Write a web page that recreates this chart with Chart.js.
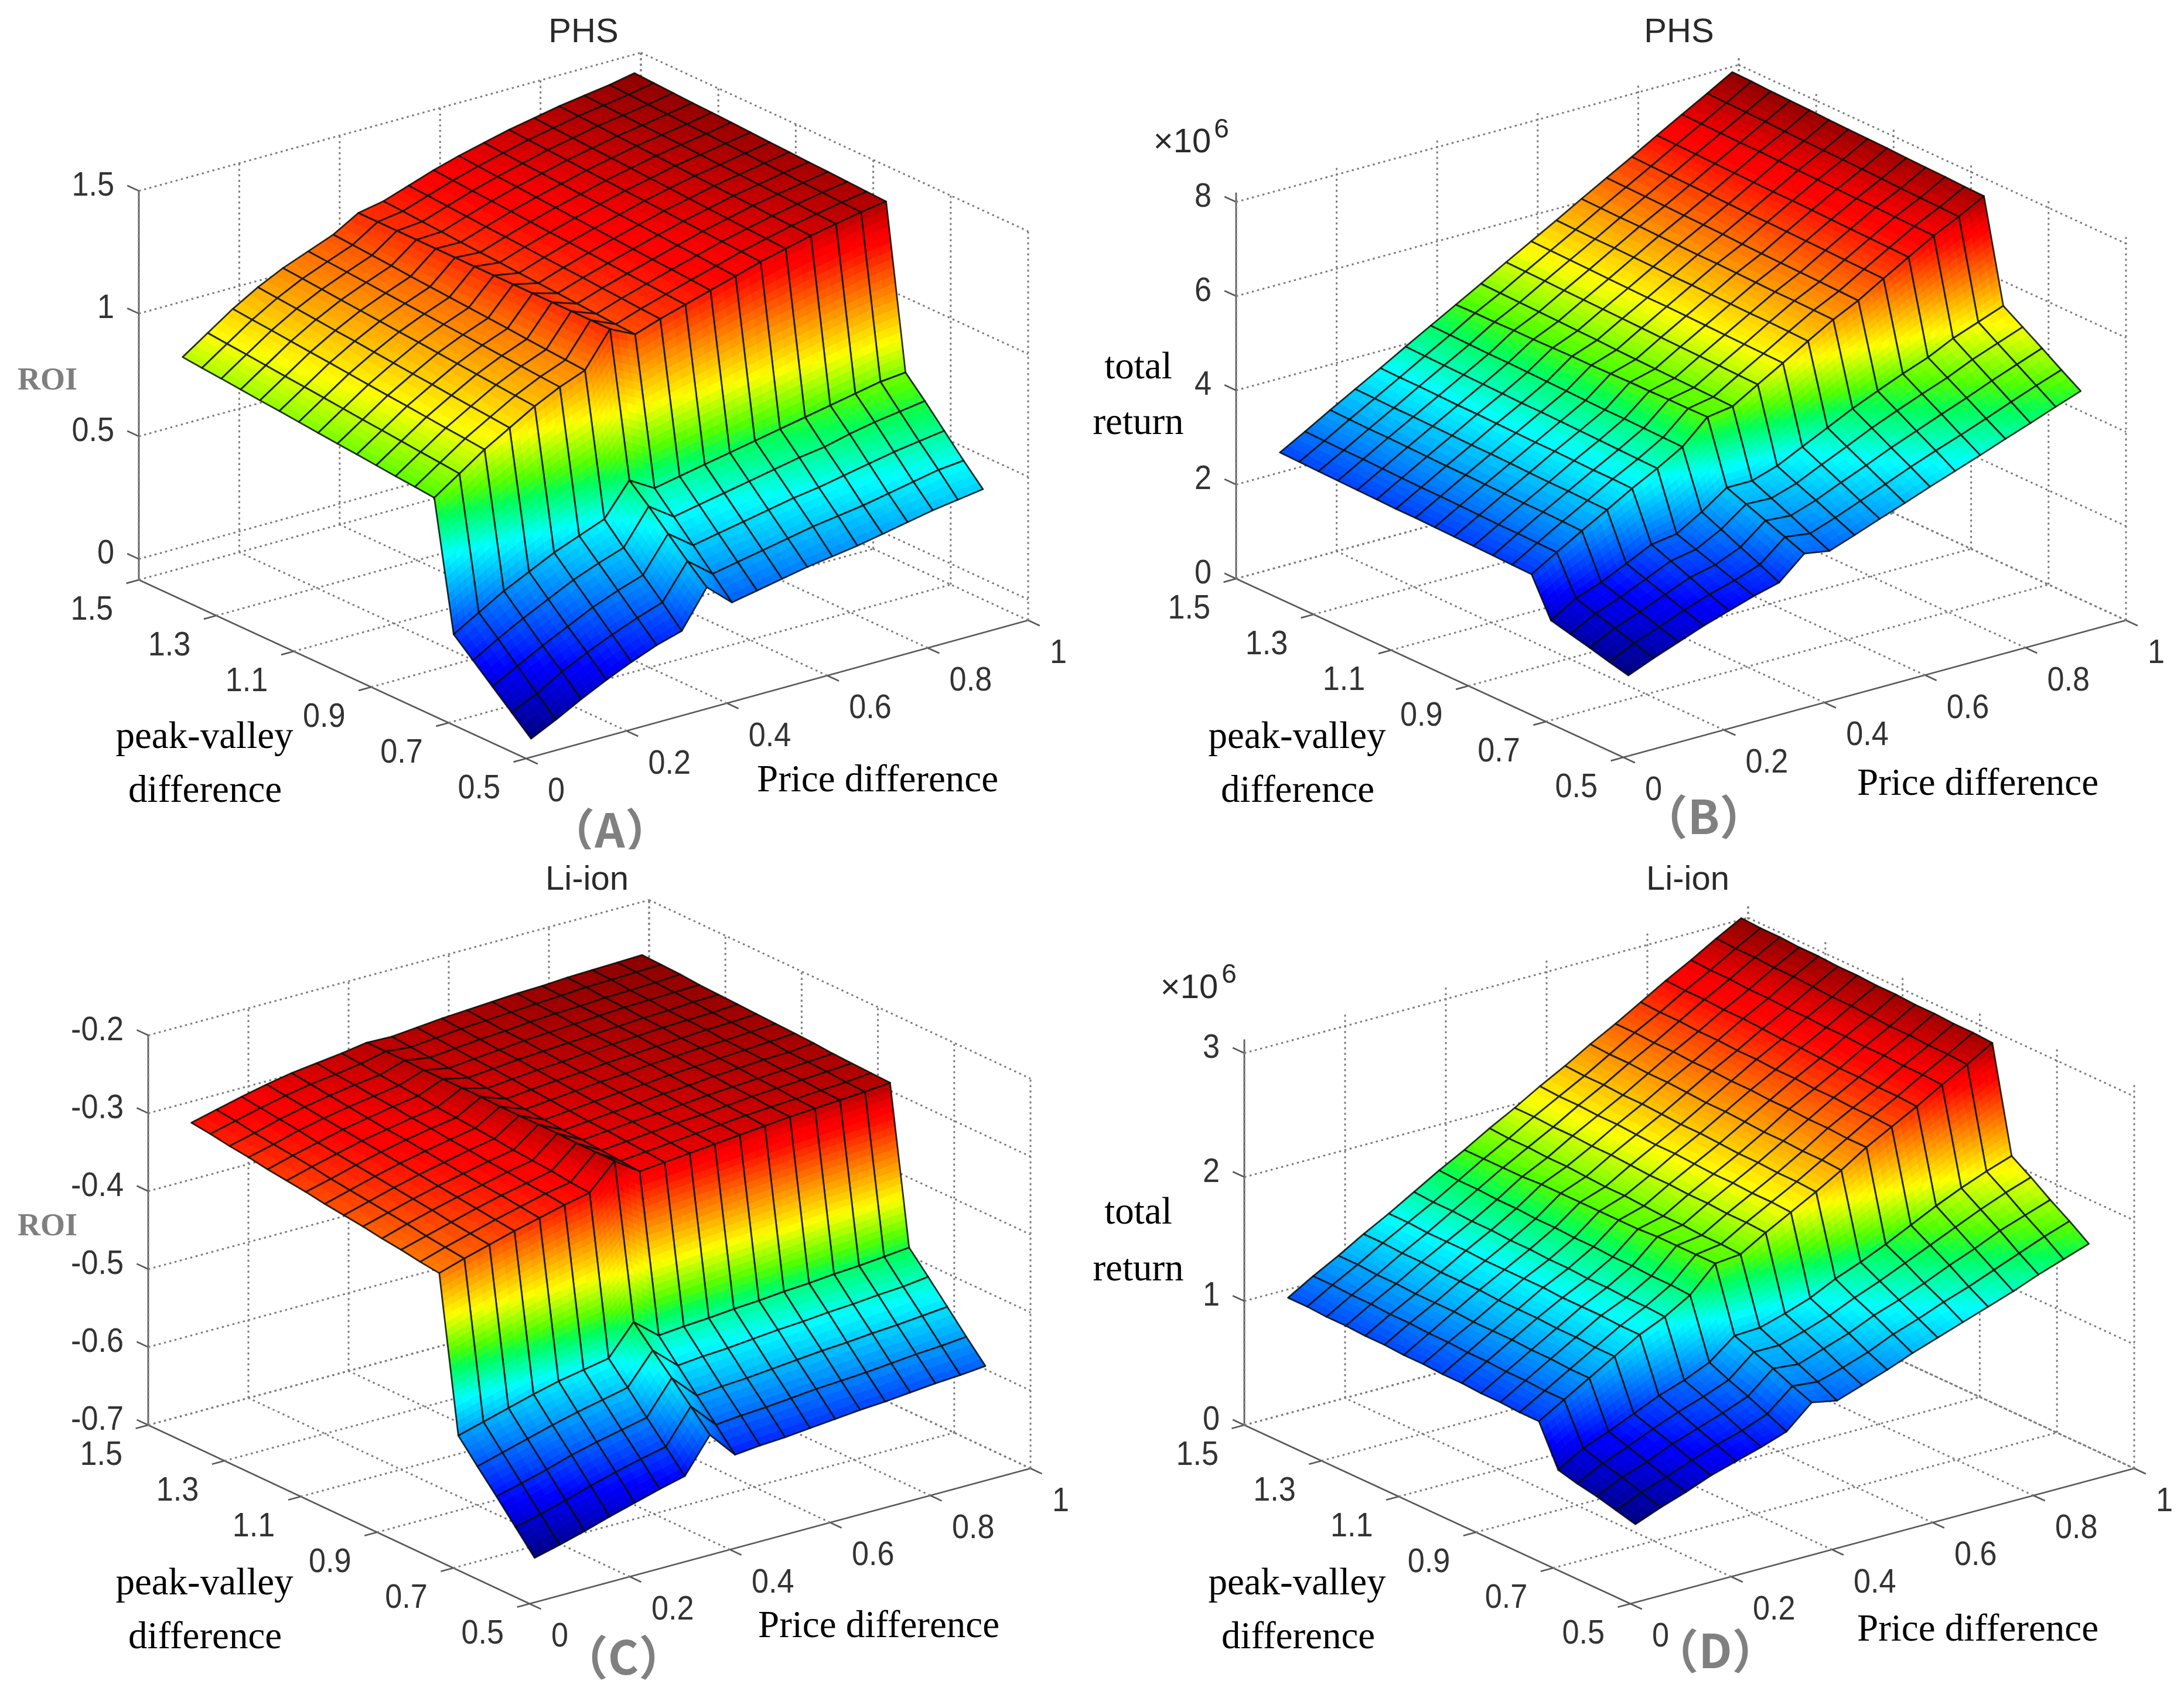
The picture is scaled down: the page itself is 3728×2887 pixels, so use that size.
<!DOCTYPE html>
<html>
<head>
<meta charset="utf-8">
<title>PHS and Li-ion surfaces</title>
<script src="https://cdn.jsdelivr.net/npm/chart.js@4"></script>
<style>
body{margin:0;background:#fff;width:3728px;height:2887px;position:relative;overflow:hidden;}
canvas{position:absolute;}
</style>
</head>
<body>
<canvas id="panelA"></canvas>
<canvas id="panelB"></canvas>
<canvas id="panelC"></canvas>
<canvas id="panelD"></canvas>
<script>
// grid of the surfaces
const priceDiff=[0.01,0.06,0.11,0.16,0.21,0.26,0.31,0.36,0.41,0.46,0.51,0.56,0.61,0.66,0.71,0.76,0.81,0.86,0.91];
const peakValley=[0.5,0.55,0.6,0.65,0.7,0.75,0.8,0.85,0.9,0.95,1.0,1.05,1.1,1.15,1.2,1.25,1.3,1.35,1.4];

// tick labels
const priceTicks=[0,0.2,0.4,0.6,0.8,1];
const priceTickLabels=['0','0.2','0.4','0.6','0.8','1'];
const peakTicks=[0.5,0.7,0.9,1.1,1.3,1.5];
const peakTickLabels=['0.5','0.7','0.9','1.1','1.3','1.5'];
const roiPhsTicks=[0,0.5,1,1.5];
const roiPhsLabels=['0','0.5','1','1.5'];
const returnPhsTicks=[0,2,4,6,8];
const returnPhsLabels=['0','2','4','6','8'];
const roiLiTicks=[-0.7,-0.6,-0.5,-0.4,-0.3,-0.2];
const roiLiLabels=['-0.7','-0.6','-0.5','-0.4','-0.3','-0.2'];
const returnLiTicks=[0,1,2,3];
const returnLiLabels=['0','1','2','3'];

// values, one row per peak-valley value, one column per price difference
const roiPhs=[
[-.01,.04,.095,.145,.19,.23,.26,.41,.32,.34,.36,.38,.395,.41,.43,.45,.47,.485,.50],
[.06,.11,.17,.22,.265,.305,.34,.48,.40,.42,.44,.46,.48,.495,.51,.53,.55,.57,.58],
[.13,.185,.24,.29,.34,.38,.415,.555,.48,.50,.52,.54,.56,.575,.595,.615,.635,.65,.665],
[.20,.26,.315,.365,.415,.455,.49,.63,.56,.58,.60,.62,.64,.66,.675,.70,.72,.735,.75],
[.27,.33,.39,.44,.49,.53,.57,.70,.64,.66,.68,.70,.72,.74,.76,.78,.80,.82,.83],
[.790,.860,.930,.990,1.050,1.100,1.140,1.280,1.230,1.265,1.295,1.325,1.355,1.385,1.410,1.435,1.455,1.475,1.490],
[.798,.868,.938,.998,1.057,1.106,1.146,1.280,1.235,1.270,1.301,1.331,1.360,1.390,1.415,1.439,1.459,1.478,1.494],
[.805,.875,.945,1.005,1.064,1.112,1.152,1.280,1.241,1.276,1.307,1.337,1.366,1.395,1.419,1.443,1.463,1.482,1.498],
[.813,.883,.953,1.013,1.071,1.118,1.158,1.280,1.246,1.281,1.312,1.342,1.371,1.400,1.424,1.448,1.467,1.485,1.502],
[.821,.891,.961,1.021,1.078,1.125,1.165,1.280,1.252,1.287,1.318,1.348,1.377,1.405,1.428,1.452,1.470,1.489,1.505],
[.828,.898,.968,1.028,1.085,1.131,1.171,1.280,1.257,1.292,1.324,1.354,1.382,1.410,1.433,1.456,1.474,1.492,1.509],
[.836,.906,.976,1.036,1.092,1.137,1.177,1.280,1.262,1.297,1.330,1.360,1.387,1.415,1.438,1.460,1.478,1.496,1.513],
[.844,.914,.984,1.044,1.098,1.143,1.183,1.280,1.268,1.303,1.335,1.365,1.393,1.420,1.442,1.465,1.482,1.499,1.517],
[.852,.922,.992,1.052,1.105,1.149,1.189,1.280,1.273,1.308,1.341,1.371,1.398,1.425,1.447,1.469,1.486,1.503,1.521],
[.859,.929,.999,1.059,1.112,1.155,1.195,1.280,1.278,1.313,1.347,1.377,1.403,1.430,1.452,1.473,1.490,1.506,1.525],
[.867,.937,1.007,1.067,1.119,1.162,1.202,1.280,1.284,1.319,1.353,1.383,1.409,1.435,1.456,1.477,1.493,1.510,1.528],
[.875,.945,1.015,1.075,1.126,1.168,1.208,1.280,1.289,1.324,1.358,1.388,1.414,1.440,1.461,1.482,1.497,1.513,1.532],
[.882,.952,1.022,1.082,1.133,1.174,1.214,1.280,1.295,1.330,1.364,1.394,1.420,1.445,1.465,1.486,1.501,1.517,1.536],
[.890,.960,1.030,1.090,1.140,1.180,1.220,1.280,1.300,1.335,1.370,1.400,1.425,1.450,1.470,1.490,1.505,1.520,1.540]
];
const returnPhs=[
[1.71,1.93,2.13,2.33,2.50,2.67,2.81,3.28,3.19,3.38,3.58,3.77,3.97,4.16,4.35,4.55,4.74,4.94,5.13],
[1.81,2.06,2.26,2.47,2.66,2.81,3.00,3.44,3.37,3.56,3.77,3.98,4.20,4.40,4.59,4.79,5.00,5.20,5.39],
[1.92,2.19,2.39,2.61,2.83,2.95,3.18,3.60,3.56,3.74,3.97,4.19,4.42,4.63,4.84,5.04,5.26,5.46,5.66],
[2.02,2.31,2.51,2.75,2.99,3.09,3.37,3.76,3.74,3.91,4.16,4.40,4.65,4.87,5.08,5.28,5.52,5.72,5.92],
[2.12,2.44,2.64,2.89,3.15,3.23,3.55,3.92,3.92,4.09,4.35,4.61,4.87,5.10,5.32,5.52,5.78,5.98,6.18],
[2.91,3.23,3.54,3.84,4.15,4.43,4.74,5.23,5.31,5.63,5.94,6.26,6.57,6.83,7.15,7.46,7.77,8.03,8.32],
[2.92,3.24,3.55,3.85,4.16,4.44,4.75,5.22,5.32,5.64,5.95,6.27,6.58,6.84,7.16,7.47,7.78,8.04,8.33],
[2.93,3.25,3.56,3.86,4.16,4.45,4.76,5.22,5.33,5.65,5.96,6.28,6.59,6.85,7.17,7.48,7.79,8.05,8.35],
[2.94,3.25,3.56,3.86,4.17,4.46,4.77,5.21,5.34,5.66,5.97,6.28,6.59,6.86,7.18,7.49,7.80,8.06,8.36],
[2.95,3.26,3.57,3.87,4.18,4.47,4.77,5.21,5.35,5.67,5.98,6.29,6.60,6.87,7.19,7.50,7.80,8.08,8.37],
[2.96,3.27,3.58,3.88,4.18,4.48,4.78,5.20,5.36,5.68,5.99,6.30,6.61,6.88,7.20,7.51,7.81,8.09,8.39],
[2.97,3.28,3.59,3.89,4.19,4.49,4.79,5.19,5.37,5.69,6.00,6.31,6.62,6.89,7.21,7.52,7.82,8.10,8.40],
[2.97,3.28,3.59,3.89,4.20,4.49,4.80,5.19,5.39,5.70,6.00,6.31,6.62,6.91,7.21,7.52,7.83,8.11,8.41],
[2.98,3.29,3.60,3.90,4.21,4.50,4.81,5.18,5.40,5.71,6.01,6.32,6.63,6.92,7.22,7.53,7.84,8.12,8.42],
[2.99,3.30,3.61,3.91,4.21,4.51,4.82,5.17,5.41,5.72,6.02,6.33,6.64,6.93,7.23,7.54,7.85,8.13,8.44],
[3.00,3.31,3.62,3.92,4.22,4.52,4.82,5.17,5.42,5.73,6.03,6.34,6.65,6.94,7.24,7.55,7.85,8.15,8.45],
[3.01,3.31,3.62,3.92,4.23,4.53,4.83,5.16,5.43,5.74,6.04,6.34,6.65,6.95,7.25,7.56,7.86,8.16,8.46],
[3.02,3.32,3.63,3.93,4.23,4.54,4.84,5.16,5.44,5.75,6.05,6.35,6.66,6.96,7.26,7.57,7.87,8.17,8.48],
[3.03,3.33,3.64,3.94,4.24,4.55,4.85,5.15,5.45,5.76,6.06,6.36,6.67,6.97,7.27,7.58,7.88,8.18,8.49]
];
const roiLi=[
[-.643,-.635,-.626,-.616,-.607,-.598,-.590,-.546,-.580,-.577,-.575,-.572,-.569,-.566,-.564,-.561,-.558,-.556,-.553],
[-.615,-.607,-.598,-.588,-.579,-.571,-.564,-.521,-.553,-.550,-.548,-.545,-.542,-.540,-.538,-.535,-.532,-.530,-.527],
[-.587,-.579,-.570,-.560,-.552,-.545,-.538,-.496,-.527,-.524,-.522,-.519,-.516,-.513,-.511,-.508,-.506,-.503,-.500],
[-.560,-.551,-.542,-.533,-.525,-.518,-.511,-.472,-.500,-.497,-.495,-.492,-.489,-.487,-.484,-.482,-.479,-.477,-.473],
[-.532,-.523,-.514,-.505,-.497,-.491,-.485,-.447,-.473,-.470,-.468,-.465,-.463,-.460,-.458,-.455,-.453,-.450,-.447],
[-.335,-.325,-.316,-.307,-.299,-.291,-.284,-.252,-.274,-.271,-.268,-.265,-.262,-.259,-.256,-.254,-.252,-.250,-.247],
[-.332,-.322,-.313,-.304,-.296,-.288,-.282,-.252,-.272,-.269,-.266,-.263,-.260,-.257,-.255,-.253,-.251,-.249,-.246],
[-.328,-.319,-.310,-.301,-.293,-.286,-.279,-.252,-.270,-.267,-.264,-.261,-.259,-.256,-.253,-.251,-.249,-.247,-.245],
[-.325,-.315,-.306,-.298,-.291,-.283,-.277,-.251,-.268,-.265,-.262,-.260,-.257,-.254,-.252,-.250,-.248,-.246,-.244],
[-.321,-.312,-.303,-.295,-.288,-.281,-.275,-.251,-.267,-.264,-.261,-.258,-.255,-.253,-.250,-.248,-.246,-.245,-.242],
[-.318,-.309,-.300,-.292,-.285,-.278,-.272,-.251,-.265,-.262,-.259,-.256,-.254,-.251,-.249,-.247,-.245,-.243,-.241],
[-.315,-.306,-.297,-.289,-.282,-.276,-.270,-.251,-.263,-.260,-.257,-.254,-.252,-.249,-.247,-.245,-.244,-.242,-.240],
[-.311,-.303,-.294,-.286,-.279,-.273,-.268,-.250,-.261,-.258,-.255,-.253,-.250,-.248,-.246,-.244,-.242,-.241,-.239],
[-.308,-.299,-.291,-.283,-.277,-.271,-.266,-.250,-.259,-.256,-.253,-.251,-.248,-.246,-.244,-.242,-.241,-.240,-.238],
[-.305,-.296,-.288,-.280,-.274,-.268,-.263,-.250,-.257,-.254,-.251,-.249,-.247,-.245,-.243,-.241,-.240,-.238,-.237],
[-.301,-.293,-.284,-.277,-.271,-.266,-.261,-.250,-.256,-.253,-.250,-.247,-.245,-.243,-.241,-.239,-.238,-.237,-.236],
[-.298,-.290,-.281,-.274,-.268,-.263,-.259,-.249,-.254,-.251,-.248,-.246,-.243,-.241,-.240,-.238,-.237,-.236,-.234],
[-.294,-.286,-.278,-.271,-.265,-.261,-.256,-.249,-.252,-.249,-.246,-.244,-.242,-.240,-.238,-.236,-.235,-.234,-.233],
[-.291,-.283,-.275,-.268,-.262,-.258,-.254,-.249,-.250,-.247,-.244,-.242,-.240,-.238,-.237,-.235,-.234,-.233,-.232]
];
const returnLi=[
[.63,.71,.78,.86,.92,.98,1.05,1.23,1.19,1.26,1.33,1.41,1.48,1.55,1.62,1.69,1.77,1.84,1.91],
[.67,.76,.83,.91,.98,1.04,1.12,1.29,1.27,1.33,1.40,1.49,1.56,1.64,1.71,1.79,1.87,1.95,2.02],
[.71,.81,.88,.97,1.04,1.11,1.19,1.36,1.34,1.41,1.48,1.57,1.64,1.72,1.81,1.89,1.98,2.05,2.12],
[.74,.85,.93,1.02,1.10,1.17,1.25,1.42,1.42,1.48,1.55,1.64,1.72,1.81,1.90,1.99,2.08,2.16,2.23],
[.78,.90,.98,1.07,1.16,1.23,1.32,1.48,1.49,1.55,1.62,1.72,1.80,1.89,1.99,2.09,2.18,2.26,2.33],
[1.10,1.22,1.34,1.46,1.58,1.67,1.79,1.99,2.01,2.13,2.24,2.35,2.47,2.60,2.71,2.82,2.94,3.05,3.17],
[1.10,1.22,1.34,1.46,1.58,1.68,1.80,1.99,2.02,2.14,2.25,2.36,2.48,2.60,2.72,2.83,2.95,3.06,3.18],
[1.11,1.23,1.35,1.47,1.59,1.68,1.80,1.99,2.02,2.14,2.25,2.36,2.48,2.61,2.72,2.83,2.95,3.06,3.18],
[1.11,1.23,1.35,1.47,1.59,1.69,1.81,1.99,2.03,2.15,2.26,2.37,2.49,2.61,2.73,2.84,2.96,3.07,3.19],
[1.12,1.24,1.36,1.48,1.59,1.69,1.81,1.98,2.03,2.15,2.26,2.37,2.49,2.62,2.73,2.84,2.96,3.07,3.19],
[1.12,1.24,1.36,1.48,1.60,1.70,1.82,1.98,2.04,2.16,2.27,2.38,2.50,2.62,2.74,2.85,2.97,3.08,3.20],
[1.13,1.25,1.36,1.48,1.60,1.70,1.82,1.98,2.05,2.16,2.28,2.39,2.51,2.63,2.74,2.86,2.97,3.09,3.20],
[1.13,1.25,1.37,1.49,1.60,1.71,1.83,1.98,2.05,2.17,2.28,2.39,2.51,2.63,2.75,2.86,2.98,3.09,3.21],
[1.14,1.26,1.37,1.49,1.60,1.71,1.83,1.98,2.06,2.18,2.29,2.40,2.52,2.64,2.75,2.87,2.98,3.10,3.21],
[1.14,1.26,1.37,1.49,1.61,1.72,1.84,1.98,2.07,2.18,2.30,2.41,2.53,2.64,2.76,2.88,2.99,3.11,3.22],
[1.15,1.27,1.38,1.50,1.61,1.72,1.84,1.97,2.07,2.19,2.30,2.41,2.53,2.65,2.76,2.88,2.99,3.11,3.22],
[1.15,1.27,1.38,1.50,1.61,1.73,1.85,1.97,2.08,2.19,2.31,2.42,2.54,2.65,2.77,2.89,3.00,3.12,3.23],
[1.16,1.28,1.39,1.51,1.62,1.73,1.85,1.97,2.08,2.20,2.31,2.42,2.54,2.66,2.77,2.89,3.00,3.12,3.23],
[1.16,1.28,1.39,1.51,1.62,1.74,1.86,1.97,2.09,2.20,2.32,2.43,2.55,2.66,2.78,2.90,3.01,3.13,3.24]
];

// where each 3D box sits on the page
const panels=[
{id:'panelA',rect:[0,0,1860,1450],values:roiPhs,zTicks:roiPhsTicks,zLabels:roiPhsLabels,
 origin:[898,1295],ex:[857,-236],ey:[-661,-305],ez:419,zFloor:-.085,zTop:1.5,
 texts:[['PHS',996,56,'title'],['ROI',81,651,'roi'],['peak-valley',349,1260,'serif'],['difference',350,1352,'serif'],['Price difference',1498,1334,'serif'],['（A）',1041,1417,'tag']]},
{id:'panelB',rect:[1860,0,1868,1450],values:returnPhs,zTicks:returnPhsTicks,zLabels:returnPhsLabels,
 origin:[2771,1293],ex:[858,-234],ey:[-661,-305],ez:80.4,zFloor:0,zTop:8.2,
 texts:[['PHS',2866,56,'title'],['total',1943,629,'serif'],['return',1943,724,'serif'],['peak-valley',2214,1260,'serif'],['difference',2215,1352,'serif'],['Price difference',3376,1340,'serif'],['（B）',2908,1394,'tag'],['×10',2018,244,'title'],['6',2085,222,'sup']]},
{id:'panelC',rect:[0,1450,1860,1437],values:roiLi,zTicks:roiLiTicks,zLabels:roiLiLabels,
 origin:[904,2738],ex:[855,-231],ey:[-651,-305],ez:1331,zFloor:-.7,zTop:-.2,
 texts:[['Li-ion',1002,1503,'title'],['ROI',81,2095,'roi'],['peak-valley',349,2705,'serif'],['difference',350,2797,'serif'],['Price difference',1500,2778,'serif'],['（C）',1064,2829,'tag']]},
{id:'panelD',rect:[1860,1450,1868,1437],values:returnLi,zTicks:returnLiTicks,zLabels:returnLiLabels,
 origin:[2783,2738],ex:[860,-231],ey:[-659,-305],ez:211.7,zFloor:0,zTop:3.11,
 texts:[['Li-ion',2881,1503,'title'],['total',1943,2072,'serif'],['return',1943,2169,'serif'],['peak-valley',2214,2705,'serif'],['difference',2216,2797,'serif'],['Price difference',3376,2784,'serif'],['（D）',2928,2818,'tag'],['×10',2030,1688,'title'],['6',2098,1665,'sup']]}
];

const textStyles={
    title:{font:'58px "Liberation Sans"',color:'#2a2a2a'},
    sup:{font:'46px "Liberation Sans"',color:'#2a2a2a'},
    serif:{font:'65px "Liberation Serif"',color:'#000'},
    roi:{font:'bold 54px "Liberation Serif"',color:'#7f7f7f'},
    tag:{font:'bold 80px "Noto Sans CJK SC"',color:'#808080'}
};

const project=(p,x,y,z)=>({
    x:p.origin[0]+p.ex[0]*x+p.ey[0]*(y-0.5),
    y:p.origin[1]+p.ex[1]*x+p.ey[1]*(y-0.5)-p.ez*(z-p.zFloor)
});

const clamp01=(v)=>Math.max(0,Math.min(1,v));

// jet, tuned by eye: greener middle and a later dark red end
const jet=(t)=>{
    t=clamp01(t);
    let r=clamp01((t-0.47)/0.155);
    if(t>0.89)r=1-(t-0.89)/0.11*0.45;
    const g=clamp01(1.5-Math.abs(4*(t-0.5)));
    let b=t<0.375?clamp01(1.5-Math.abs(4*(t-0.25))):clamp01((0.52-t)/0.145);
    return 'rgb('+Math.round(255*r)+','+Math.round(255*g)+','+Math.round(255*b)+')';
};

const lineSet=(a,b,solid)=>({
    data:[a,b],
    showLine:true,
    pointRadius:0,
    borderColor:solid?'#585858':'#7d7d7d',
    borderWidth:solid?2.7:3,
    borderDash:solid?[]:[3.5,5.8]
});

const boxLines=(p)=>{
    const f=p.zFloor,t=p.zTop,sets=[];
    priceTicks.forEach(x=>{
        if(x>0)sets.push(lineSet(project(p,x,0.5,f),project(p,x,1.5,f)));
        sets.push(lineSet(project(p,x,1.5,f),project(p,x,1.5,t)));
    });
    peakTicks.forEach(y=>{
        if(y>0.5)sets.push(lineSet(project(p,0,y,f),project(p,1,y,f)));
        sets.push(lineSet(project(p,1,y,f),project(p,1,y,t)));
    });
    p.zTicks.forEach(z=>{
        sets.push(lineSet(project(p,0,1.5,z),project(p,1,1.5,z)));
        sets.push(lineSet(project(p,1,1.5,z),project(p,1,0.5,z)));
    });
    // solid axes and their ticks
    sets.push(lineSet(project(p,0,0.5,f),project(p,1,0.5,f),true));
    sets.push(lineSet(project(p,0,0.5,f),project(p,0,1.5,f),true));
    sets.push(lineSet(project(p,0,1.5,f),project(p,0,1.5,t),true));
    priceTicks.forEach(x=>sets.push(lineSet(project(p,x,0.5,f),project(p,x,0.47,f),true)));
    peakTicks.forEach(y=>sets.push(lineSet(project(p,0,y,f),project(p,-0.025,y,f),true)));
    p.zTicks.forEach(z=>sets.push(lineSet(project(p,0,1.5,z),project(p,0,1.53,z),true)));
    return sets;
};

const surfacePlugin={
    id:'surface',
    afterDatasetsDraw(chart,args,opts){
        const ctx=chart.ctx,p=opts.panel;
        const sx=chart.scales.x,sy=chart.scales.y;
        const vals=p.values;
        let lo=Infinity,hi=-Infinity;
        vals.forEach(r=>r.forEach(v=>{lo=Math.min(lo,v);hi=Math.max(hi,v);}));
        const px=(i,j)=>{
            const q=project(p,priceDiff[i],peakValley[j],vals[j][i]);
            return [sx.getPixelForValue(q.x),sy.getPixelForValue(q.y)];
        };
        ctx.save();
        ctx.lineJoin='round';
        // far cells first so the near ones cover them
        for(let i=priceDiff.length-2;i>=0;i--){
            for(let j=peakValley.length-2;j>=0;j--){
                const a=px(i,j),b=px(i+1,j),c=px(i+1,j+1),d=px(i,j+1);
                const za=vals[j][i],zb=vals[j][i+1],zc=vals[j+1][i+1],zd=vals[j+1][i];
                const nu=1+Math.ceil(Math.max(Math.abs(zb-za),Math.abs(zc-zd))/(hi-lo)*45);
                const nv=1+Math.ceil(Math.max(Math.abs(zd-za),Math.abs(zc-zb))/(hi-lo)*45);
                const at=(u,v,k)=>(a[k]*(1-u)+b[k]*u)*(1-v)+(d[k]*(1-u)+c[k]*u)*v;
                for(let m=0;m<nu;m++){
                    for(let n=0;n<nv;n++){
                        const u0=m/nu,u1=(m+1)/nu,v0=n/nv,v1=(n+1)/nv;
                        const um=(u0+u1)/2,vm=(v0+v1)/2;
                        const z=(za*(1-um)+zb*um)*(1-vm)+(zd*(1-um)+zc*um)*vm;
                        const col=jet((z-lo)/(hi-lo));
                        ctx.beginPath();
                        ctx.moveTo(at(u0,v0,0),at(u0,v0,1));
                        ctx.lineTo(at(u1,v0,0),at(u1,v0,1));
                        ctx.lineTo(at(u1,v1,0),at(u1,v1,1));
                        ctx.lineTo(at(u0,v1,0),at(u0,v1,1));
                        ctx.closePath();
                        ctx.fillStyle=col;
                        ctx.strokeStyle=col;
                        ctx.lineWidth=1;
                        ctx.fill();
                        ctx.stroke();
                    }
                }
                ctx.beginPath();
                ctx.moveTo(a[0],a[1]);
                ctx.lineTo(b[0],b[1]);
                ctx.lineTo(c[0],c[1]);
                ctx.lineTo(d[0],d[1]);
                ctx.closePath();
                ctx.strokeStyle='rgba(10,15,10,0.85)';
                ctx.lineWidth=2.8;
                ctx.stroke();
            }
        }
        // labels
        const put=(txt,x,y,align,st,squeeze)=>{
            ctx.save();
            ctx.translate(sx.getPixelForValue(x),sy.getPixelForValue(y));
            ctx.scale(squeeze||1,1);
            ctx.font=st.font;
            ctx.fillStyle=st.color;
            ctx.textAlign=align;
            ctx.textBaseline='middle';
            ctx.fillText(txt,0,0);
            ctx.restore();
        };
        const tickStyle={font:'58px "Liberation Sans"',color:'#333'};
        priceTicks.forEach((x,k)=>{
            const q=project(p,x,0.5,p.zFloor);
            put(priceTickLabels[k],q.x+37,q.y+57,'left',tickStyle,0.9);
        });
        peakTicks.forEach((y,k)=>{
            const q=project(p,0,y,p.zFloor);
            put(peakTickLabels[k],q.x-44,q.y+52,'right',tickStyle,0.9);
        });
        p.zTicks.forEach((z,k)=>{
            const q=project(p,0,1.5,z);
            put(p.zLabels[k],q.x-42,q.y-8,'right',tickStyle,0.9);
        });
        p.texts.forEach(t=>put(t[0],t[1],t[2],'center',textStyles[t[3]]));
        ctx.restore();
    }
};

panels.forEach(p=>{
    const cv=document.getElementById(p.id);
    const [left,top,w,h]=p.rect;
    cv.style.left=left+'px';
    cv.style.top=top+'px';
    cv.width=w;
    cv.height=h;
    new Chart(cv,{
        type:'scatter',
        data:{datasets:boxLines(p)},
        options:{
            responsive:false,
            animation:false,
            devicePixelRatio:1,
            layout:{padding:0},
            scales:{
                x:{type:'linear',display:false,min:left,max:left+w},
                y:{type:'linear',display:false,reverse:true,min:top,max:top+h}
            },
            plugins:{
                legend:{display:false},
                tooltip:{enabled:false},
                title:{display:false},
                surface:{panel:p}
            }
        },
        plugins:[surfacePlugin]
    });
});
</script>
</body>
</html>
